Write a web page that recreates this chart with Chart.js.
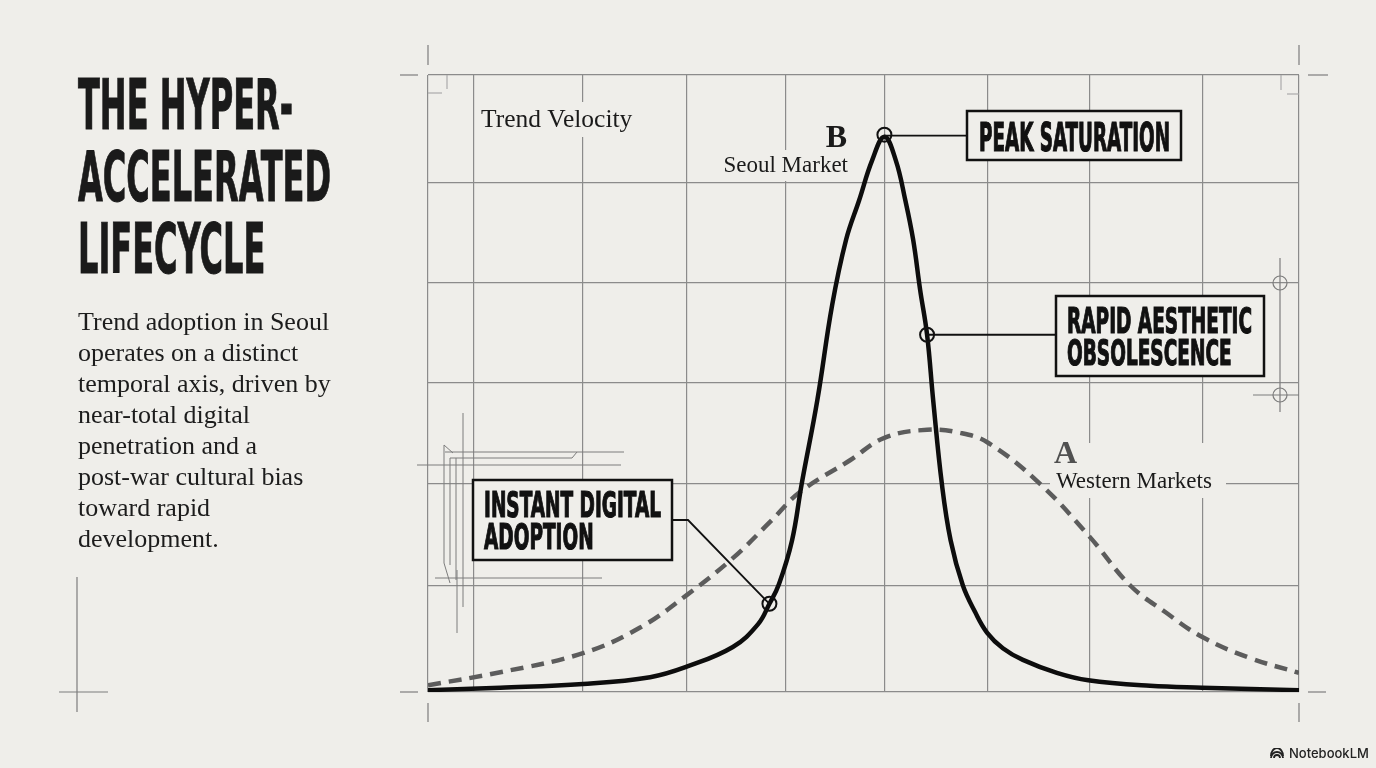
<!DOCTYPE html>
<html>
<head>
<meta charset="utf-8">
<script src="https://cdn.jsdelivr.net/npm/chart.js@4.4.1/dist/chart.umd.min.js"></script>
<style>
  html, body { margin: 0; padding: 0; }
  body { width: 1376px; height: 768px; background: #efeeea; position: relative; overflow: hidden; }
  #chart { position: absolute; left: 0; top: 0; }
  #title { position: absolute; left: 78px; top: 69px; font: bold 70px "Liberation Sans Narrow", "DejaVu Sans Condensed", "Liberation Sans", sans-serif;
           line-height: 72px; color: #1a1a1a; -webkit-text-stroke: 1px #1a1a1a; transform-origin: left top; white-space: nowrap; }
  #blurb { position: absolute; left: 78px; top: 306px; font: 26px "Liberation Serif", serif; line-height: 31px; color: #1c1c1c; white-space: nowrap; }
  #brand { position: absolute; left: 1270px; top: 745px; font: 500 13px Inter, "Noto Sans", sans-serif; color: #222; display: flex; align-items: center; gap: 5px; }
</style>
</head>
<body>
<canvas id="chart" width="1376" height="768"></canvas>
<div id="title"><span>THE HYPER-</span><br><span id="widest">ACCELERATED</span><br><span>LIFECYCLE</span></div>
<div id="blurb">Trend adoption in Seoul<br>operates on a distinct<br>temporal axis, driven by<br>near-total digital<br>penetration and a<br>post-war cultural bias<br>toward rapid<br>development.</div>
<div id="brand">
  <svg width="14" height="11" viewBox="0 0 14 11"><path d="M1 10 A6 6 0 0 1 13 10 M4 10 A3 3 0 0 1 10 10" fill="none" stroke="#222" stroke-width="1.8"/><path d="M1 10 A6 8 0 0 1 13 10" fill="none" stroke="#222" stroke-width="1.8" transform="translate(0,-2)"/></svg>
  <span>NotebookLM</span>
</div>
<script>
// time axis 0..100, trend velocity 0..100
const seoulX = [0, 8.3, 17.8, 25.5, 29.7, 35.0, 37.9, 39.2, 40.3, 41.8, 42.9, 44.7, 46.4, 48.0, 49.5, 51.0, 52.4,
                53.7, 54.8, 55.7, 56.5, 57.3, 58.0, 59.0, 60.0, 61.4, 62.8, 64.2, 66.0, 68.3, 72.2, 75.8, 82.9, 88.9, 100];
const seoulY = [0.3, 0.7, 1.3, 2.4, 4.1, 7.3, 11.0, 14.3, 17.5, 24.6, 33.7, 47.3, 62.7, 73.3, 79.7, 86.2, 90.0,
                86.2, 79.7, 73.3, 65.2, 57.9, 47.3, 33.7, 24.6, 17.3, 13.0, 9.6, 7.1, 5.2, 3.1, 1.9, 1.0, 0.7, 0.3];
const westernX = [0, 8.3, 17.8, 24.3, 29.7, 35.0, 39.3, 42.7, 48.5, 52.4, 57.3, 61.1, 64.3, 70.3, 76.0, 80.6, 84.6, 88.9, 94.4, 100];
const westernY = [1.1, 3.2, 6.3, 10.4, 15.7, 21.7, 27.6, 32.4, 37.6, 41.2, 42.5, 42.0, 40.4, 33.7, 25.1, 17.3, 13.0, 8.9, 5.5, 3.1];
const gridX = [0, 5.2, 17.8, 29.7, 41.0, 52.4, 64.3, 76.0, 88.9, 100];
const gridY = [0, 17.3, 33.7, 50.1, 66.3, 82.5, 100];

const adoptionIdx = 7;
const peakIdx = seoulY.indexOf(Math.max(...seoulY));
const obsolescenceIdx = 21;

const BG = '#efeeea';
const INK = '#111';
const RULE = '#7c7c7c';

// squeeze title to the condensed look
const titleEl = document.getElementById('title');
const tw = document.getElementById('widest').getBoundingClientRect().width;
titleEl.style.transform = `scaleX(${253 / tw})`;

function line(ctx, pts) {
  ctx.beginPath();
  ctx.moveTo(pts[0][0], pts[0][1]);
  pts.slice(1).forEach(p => ctx.lineTo(p[0], p[1]));
  ctx.stroke();
}

function circle(ctx, x, y, r, fill) {
  ctx.beginPath();
  ctx.arc(x, y, r, 0, Math.PI * 2);
  if (fill) { ctx.fillStyle = fill; ctx.fill(); }
  ctx.stroke();
}

function blockText(ctx, lines, x, baseline, gap, cap, width) {
  const size = cap / 0.72;
  ctx.font = `bold ${size}px "Liberation Sans Narrow", "DejaVu Sans Condensed", sans-serif`;
  const widest = Math.max(...lines.map(l => ctx.measureText(l).width));
  const sx = width / widest;
  ctx.fillStyle = INK;
  ctx.strokeStyle = INK;
  ctx.lineWidth = 1.2;
  ctx.textAlign = 'left';
  lines.forEach((l, i) => {
    ctx.save();
    ctx.translate(x, baseline + i * gap);
    ctx.scale(sx, 1);
    ctx.fillText(l, 0, 0);
    ctx.strokeText(l, 0, 0);
    ctx.restore();
  });
}

function box(ctx, x, y, w, h) {
  ctx.fillStyle = BG;
  ctx.fillRect(x, y, w, h);
  ctx.strokeStyle = INK;
  ctx.lineWidth = 2.5;
  ctx.strokeRect(x, y, w, h);
}

const paper = {
  id: 'paper',
  beforeDatasetsDraw(chart) {
    const ctx = chart.ctx;
    ctx.save();
    ctx.strokeStyle = RULE;
    ctx.lineWidth = 1.2;
    // corner registration marks
    line(ctx, [[428, 45], [428, 65]]); line(ctx, [[400, 75], [418, 75]]);
    line(ctx, [[1299, 45], [1299, 65]]); line(ctx, [[1308, 75], [1328, 75]]);
    line(ctx, [[400, 692], [418, 692]]); line(ctx, [[428, 703], [428, 722]]);
    line(ctx, [[1308, 692], [1326, 692]]); line(ctx, [[1299, 703], [1299, 722]]);
    ctx.strokeStyle = '#aaa';
    line(ctx, [[428, 93], [442, 93]]); line(ctx, [[447, 75], [447, 89]]);
    line(ctx, [[1287, 94], [1299, 94]]); line(ctx, [[1281, 75], [1281, 90]]);
    ctx.strokeStyle = RULE;
    // bottom-left crosshair
    line(ctx, [[77, 577], [77, 712]]); line(ctx, [[59, 692], [108, 692]]);
    // right side crosshair
    line(ctx, [[1280, 258], [1280, 412]]); line(ctx, [[1253, 395], [1299, 395]]);
    circle(ctx, 1280, 283, 7); circle(ctx, 1280, 395, 7);
    // blueprint bracket near the axis
    ctx.lineWidth = 1;
    line(ctx, [[445, 452], [624, 452]]);
    line(ctx, [[450, 458], [572, 458], [577, 452]]);
    line(ctx, [[417, 465], [621, 465]]);
    line(ctx, [[435, 578], [602, 578]]);
    line(ctx, [[453, 453], [444, 445], [444, 563], [450, 583]]);
    line(ctx, [[450, 458], [450, 565]]);
    line(ctx, [[456, 458], [456, 580]]);
    line(ctx, [[463, 413], [463, 607]]);
    line(ctx, [[457, 570], [457, 633]]);

    // gaps in the grid behind the series labels
    ctx.fillStyle = BG;
    ctx.fillRect(476, 102, 166, 35);
    ctx.fillRect(716, 150, 137, 31);
    ctx.fillRect(1050, 443, 176, 55);
    ctx.restore();
  },
  afterDatasetsDraw(chart) {
    const ctx = chart.ctx;
    const xs = chart.scales.x, ys = chart.scales.y;
    const pt = i => [xs.getPixelForValue(seoulX[i]), ys.getPixelForValue(seoulY[i])];
    ctx.save();

    // series labels
    ctx.fillStyle = '#1a1a1a';
    ctx.textAlign = 'left';
    ctx.font = '25.5px "Liberation Serif", serif';
    ctx.fillText('Trend Velocity', 481, 127);
    ctx.textAlign = 'right';
    ctx.font = 'bold 32px "Liberation Serif", serif';
    ctx.fillText('B', 847, 147);
    ctx.font = '23px "Liberation Serif", serif';
    ctx.fillText('Seoul Market', 848, 172);
    ctx.textAlign = 'left';
    ctx.fillStyle = '#505050';
    ctx.font = 'bold 32px "Liberation Serif", serif';
    ctx.fillText('A', 1054, 463);
    ctx.fillStyle = '#1a1a1a';
    ctx.font = '23px "Liberation Serif", serif';
    ctx.fillText('Western Markets', 1056, 488);

    ctx.strokeStyle = INK;
    ctx.lineWidth = 1.8;
    // peak saturation
    const [px, py] = pt(peakIdx);
    line(ctx, [[px, py - 1], [967, py - 1]]);
    box(ctx, 967, 111, 214, 49);
    blockText(ctx, ['PEAK SATURATION'], 979, 151, 0, 28, 191);

    // rapid aesthetic obsolescence
    ctx.strokeStyle = INK;
    ctx.lineWidth = 1.8;
    const [ox, oy] = pt(obsolescenceIdx);
    line(ctx, [[ox, oy], [1056, oy]]);
    box(ctx, 1056, 296, 208, 80);
    blockText(ctx, ['RAPID AESTHETIC', 'OBSOLESCENCE'], 1067, 333, 32, 26, 185);

    // instant digital adoption
    ctx.strokeStyle = INK;
    ctx.lineWidth = 1.8;
    const [ax, ay] = pt(adoptionIdx);
    line(ctx, [[672, 520], [688, 520], [ax, ay]]);
    box(ctx, 473, 480, 199, 80);
    blockText(ctx, ['INSTANT DIGITAL', 'ADOPTION'], 484, 517, 32, 26, 177);

    // marker rings
    ctx.strokeStyle = INK;
    ctx.lineWidth = 2;
    [[px, py - 2], [ox, oy], [ax, ay]].forEach(([x, y]) => circle(ctx, x, y, 7));
    ctx.restore();
  }
};

new Chart(document.getElementById('chart').getContext('2d'), {
  type: 'line',
  data: {
    datasets: [{
      label: 'Seoul Market',
      data: seoulX.map((x, i) => ({ x, y: seoulY[i] })),
      borderColor: '#0d0d0d',
      borderWidth: 4.5,
      tension: 0.4,
      pointRadius: 0,
      fill: false
    }, {
      label: 'Western Markets',
      data: westernX.map((x, i) => ({ x, y: westernY[i] })),
      borderColor: '#5c5c5c',
      borderWidth: 4.5,
      borderDash: [13, 8],
      tension: 0.4,
      pointRadius: 0,
      fill: false
    }]
  },
  options: {
    responsive: false,
    animation: false,
    devicePixelRatio: 1,
    layout: { padding: { left: 428, right: 77, top: 75, bottom: 76 } },
    plugins: { legend: { display: false }, tooltip: { enabled: false } },
    scales: {
      x: {
        type: 'linear', min: 0, max: 100,
        afterBuildTicks: axis => { axis.ticks = gridX.map(v => ({ value: v })); },
        grid: { color: '#8b8b8b', lineWidth: 1.2, drawTicks: false },
        border: { display: false },
        ticks: { display: false }
      },
      y: {
        type: 'linear', min: 0, max: 100,
        afterBuildTicks: axis => { axis.ticks = gridY.map(v => ({ value: v })); },
        grid: { color: '#8b8b8b', lineWidth: 1.2, drawTicks: false },
        border: { display: false },
        ticks: { display: false }
      }
    }
  },
  plugins: [paper]
});
</script>
</body>
</html>
